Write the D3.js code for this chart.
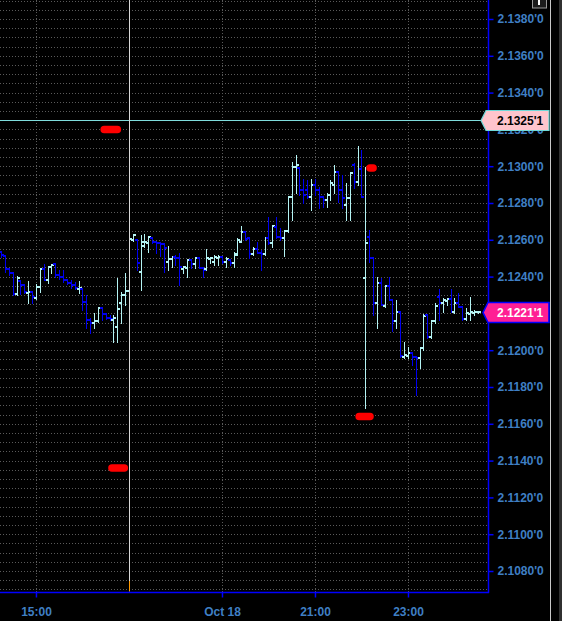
<!DOCTYPE html>
<html><head><meta charset="utf-8">
<script src="https://cdn.jsdelivr.net/npm/d3@7"></script>
<style>html,body{margin:0;padding:0;background:#000;overflow:hidden}</style>
</head><body><svg id="c" width="562" height="621"></svg>
<script>
// ---------- DATA ----------
const startTime = "2011-10-17T14:15";   // first 5-minute bar
const open = [
2.12534,2.12512,2.12441,2.12420,2.12306,2.12376,2.12355,2.12311,2.12317,2.12284,
2.12344,2.12441,2.12382,2.12452,2.12469,2.12409,2.12398,2.12382,2.12365,2.12355,
2.12333,2.12333,2.12262,2.12164,2.12148,2.12159,2.12229,2.12197,2.12175,2.12164,
2.12126,2.12257,2.12300,2.12322,2.12599,2.12599,2.12425,2.12566,2.12583,2.12610,
2.12588,2.12583,2.12577,2.12479,2.12496,2.12507,2.12501,2.12441,2.12447,2.12490,
2.12469,2.12501,2.12447,2.12441,2.12496,2.12479,2.12501,2.12507,2.12479,2.12490,
2.12474,2.12518,2.12588,2.12643,2.12610,2.12523,2.12550,2.12528,2.12523,2.12610,
2.12583,2.12670,2.12615,2.12610,2.12648,2.12833,2.12996,2.12990,2.12871,2.12871,
2.12833,2.12898,2.12871,2.12833,2.12816,2.12844,2.12898,2.12968,2.12871,2.12789,
2.12827,2.13006,2.12914,2.12985,2.12393,2.12615,2.12501,2.12257,2.12365,2.12240,
2.12349,2.12273,2.12159,2.12208,2.11964,2.11970,2.11986,2.11964,2.11959,2.12013,
2.12191,2.12072,2.12159,2.12289,2.12257,2.12268,2.12278,2.12208,2.12257,2.12235,
2.12170,2.12197,2.12202,2.12208];
const high = [
2.12539,2.12518,2.12447,2.12425,2.12403,2.12382,2.12355,2.12376,2.12322,2.12360,
2.12447,2.12469,2.12458,2.12469,2.12474,2.12436,2.12436,2.12387,2.12382,2.12371,
2.12376,2.12333,2.12300,2.12175,2.12202,2.12235,2.12235,2.12202,2.12191,2.12191,
2.12393,2.12317,2.12420,2.12626,2.12632,2.12599,2.12626,2.12632,2.12621,2.12610,
2.12594,2.12588,2.12583,2.12566,2.12512,2.12518,2.12528,2.12452,2.12496,2.12490,
2.12501,2.12501,2.12447,2.12550,2.12501,2.12518,2.12518,2.12507,2.12507,2.12496,
2.12534,2.12610,2.12675,2.12643,2.12610,2.12561,2.12588,2.12545,2.12610,2.12724,
2.12675,2.12724,2.12664,2.12653,2.12833,2.13023,2.13061,2.12990,2.12931,2.12925,
2.12931,2.12931,2.12887,2.12833,2.12855,2.12925,2.13006,2.12968,2.12952,2.12909,
2.12968,2.13017,2.13110,2.13088,2.12996,2.12653,2.12501,2.12398,2.12393,2.12355,
2.12398,2.12273,2.12273,2.12208,2.12045,2.12018,2.11986,2.11970,2.12018,2.12197,
2.12191,2.12164,2.12257,2.12333,2.12284,2.12284,2.12333,2.12284,2.12311,2.12240,
2.12229,2.12289,2.12219,2.12213];
const low = [
2.12507,2.12425,2.12409,2.12300,2.12300,2.12306,2.12311,2.12257,2.12257,2.12278,
2.12317,2.12382,2.12365,2.12420,2.12398,2.12387,2.12371,2.12360,2.12338,2.12333,
2.12311,2.12219,2.12121,2.12094,2.12121,2.12154,2.12164,2.12170,2.12164,2.12045,
2.12045,2.12148,2.12246,2.12317,2.12594,2.12436,2.12327,2.12561,2.12534,2.12583,
2.12528,2.12512,2.12425,2.12436,2.12452,2.12463,2.12355,2.12420,2.12398,2.12447,
2.12447,2.12447,2.12398,2.12436,2.12474,2.12463,2.12463,2.12474,2.12452,2.12463,
2.12452,2.12518,2.12588,2.12599,2.12501,2.12518,2.12528,2.12436,2.12518,2.12577,
2.12561,2.12610,2.12599,2.12512,2.12643,2.12708,2.12855,2.12844,2.12800,2.12827,
2.12762,2.12844,2.12773,2.12778,2.12778,2.12816,2.12855,2.12806,2.12773,2.12708,
2.12708,2.12882,2.12898,2.12833,2.11687,2.12479,2.12191,2.12121,2.12246,2.12235,
2.12273,2.12105,2.12121,2.11964,2.11959,2.11959,2.11921,2.11758,2.11904,2.12002,
2.12067,2.12067,2.12148,2.12164,2.12208,2.12246,2.12208,2.12202,2.12235,2.12164,
2.12164,2.12164,2.12191,2.12202];
const close = [
2.12518,2.12441,2.12420,2.12306,2.12393,2.12355,2.12317,2.12317,2.12289,2.12344,
2.12441,2.12382,2.12452,2.12463,2.12409,2.12398,2.12382,2.12365,2.12355,2.12338,
2.12338,2.12262,2.12164,2.12148,2.12159,2.12229,2.12197,2.12175,2.12170,2.12175,
2.12224,2.12300,2.12322,2.12605,2.12626,2.12474,2.12588,2.12588,2.12615,2.12588,
2.12583,2.12577,2.12556,2.12496,2.12507,2.12501,2.12452,2.12452,2.12490,2.12469,
2.12501,2.12447,2.12436,2.12501,2.12501,2.12507,2.12507,2.12479,2.12496,2.12474,
2.12523,2.12599,2.12643,2.12605,2.12523,2.12550,2.12528,2.12523,2.12610,2.12583,
2.12675,2.12615,2.12610,2.12648,2.12833,2.12996,2.13006,2.12871,2.12844,2.12833,
2.12898,2.12871,2.12833,2.12816,2.12844,2.12909,2.12968,2.12871,2.12827,2.12827,
2.12963,2.12914,2.12985,2.12833,2.12583,2.12501,2.12257,2.12365,2.12246,2.12349,
2.12273,2.12159,2.12208,2.11970,2.11975,2.11986,2.11964,2.11959,2.12013,2.12186,
2.12072,2.12159,2.12240,2.12257,2.12273,2.12278,2.12208,2.12257,2.12235,2.12170,
2.12202,2.12208,2.12208,2.12210];

const yTickValues = [2.108,2.110,2.112,2.114,2.116,2.118,2.120,2.122,2.124,2.126,2.128,2.130,2.132,2.134,2.136,2.138];
const yTickLabels = ["2.1080'0","2.1100'0","2.1120'0","2.1140'0","2.1160'0","2.1180'0","2.1200'0","2.1220'0","2.1240'0","2.1260'0","2.1280'0","2.1300'0","2.1320'0","2.1340'0","2.1360'0","2.1380'0"];
const xTickTimes = ["2011-10-17T15:00","2011-10-17T17:00","2011-10-17T19:00","2011-10-17T21:00","2011-10-17T23:00"];
const xTickLabels = ["15:00","","Oct 18","21:00","23:00"];

const levelPrice = 2.13251, levelLabel = "2.1325'1";
const lastPrice = 2.12210, lastLabel = "2.1221'1";
const cursorTime = "2011-10-17T17:00";

const markStart = ["2011-10-17T16:28","2011-10-17T22:11","2011-10-17T21:57","2011-10-17T16:38"];
const markEnd   = ["2011-10-17T16:45","2011-10-17T22:15","2011-10-17T22:11","2011-10-17T16:54"];
const markPrice = [2.1320, 2.1299, 2.1164, 2.1136];

// ---------- LAYOUT ----------
const W = 562, H = 621, PR = 488, PB = 592;
const FONT = "'Liberation Sans', Arial, sans-serif";
const LABEL = "#3f7fc4";
const UP = "#b4f4f4", DOWN = "#0000f0";

const svg = d3.select("#c");
svg.append("rect").attr("width", W).attr("height", H).attr("fill", "#000");

const parse = d3.timeParse("%Y-%m-%dT%H:%M");
const t0 = parse(startTime);
const times = open.map((_, i) => d3.timeMinute.offset(t0, 5 * i));

const x = d3.scaleTime()
  .domain([new Date(+t0 - 85e3), new Date(+t0 + 628.26 * 60e3)])
  .range([0, PR]);
const y = d3.scaleLinear().domain([2.108, 2.138]).range([571, 19]);
const cx = v => Math.round(v) + 0.5;

svg.append("defs").append("clipPath").attr("id", "clip")
  .append("rect").attr("x", 0).attr("y", 0).attr("width", PR).attr("height", PB);

// horizontal dotted grid
const gridVals = d3.range(0, 65).map(k => 2.107 + k * 0.0005);
svg.append("g").selectAll("line").data(gridVals.filter(v => y(v) > 0 && y(v) < PB)).join("line")
  .attr("x1", 0).attr("x2", PR)
  .attr("y1", d => cx(y(d))).attr("y2", d => cx(y(d)))
  .attr("stroke", "#5a5a5a").attr("stroke-dasharray", "1,2");

// vertical dotted grid
const tickDates = xTickTimes.map(parse);
svg.append("g").selectAll("line").data(tickDates).join("line")
  .attr("x1", d => cx(x(d))).attr("x2", d => cx(x(d)))
  .attr("y1", 0).attr("y2", PB)
  .attr("stroke", "#5a5a5a").attr("stroke-dasharray", "1,2");

// level line
svg.append("line").attr("x1", 0).attr("x2", 481)
  .attr("y1", cx(y(levelPrice))).attr("y2", cx(y(levelPrice)))
  .attr("stroke", "#7fdcdc").attr("stroke-width", 1);

// bars
const gb = svg.append("g").attr("clip-path", "url(#clip)").attr("shape-rendering", "crispEdges");
const bars = gb.selectAll("g").data(d3.range(open.length)).join("g")
  .attr("stroke", i => close[i] >= open[i] ? UP : DOWN);
bars.append("line")
  .attr("x1", i => cx(x(times[i]))).attr("x2", i => cx(x(times[i])))
  .attr("y1", i => Math.round(y(high[i]))).attr("y2", i => Math.round(y(low[i])) + 1)
  .attr("stroke-width", 1.2);
bars.append("line")
  .attr("x1", i => Math.round(x(times[i])) - 2).attr("x2", i => Math.round(x(times[i])) + 1)
  .attr("y1", i => Math.round(y(open[i]))).attr("y2", i => Math.round(y(open[i])))
  .attr("stroke-width", 2);
bars.append("line")
  .attr("x1", i => Math.round(x(times[i]))).attr("x2", i => Math.round(x(times[i])) + 3)
  .attr("y1", i => Math.round(y(close[i]))).attr("y2", i => Math.round(y(close[i])))
  .attr("stroke-width", 2);

// cursor line
const cur = parse(cursorTime);
svg.append("line").attr("x1", cx(x(cur))).attr("x2", cx(x(cur)))
  .attr("y1", 0).attr("y2", PB - 1).attr("stroke", "#d8d8d8");
svg.append("line").attr("x1", cx(x(cur))).attr("x2", cx(x(cur)))
  .attr("y1", 581).attr("y2", PB - 1).attr("stroke", "#ff9900").attr("stroke-width", 1);

// red annotation marks
svg.append("g").selectAll("line").data(markPrice).join("line")
  .attr("x1", (d, i) => x(parse(markStart[i]))).attr("x2", (d, i) => x(parse(markEnd[i])))
  .attr("y1", d => y(d)).attr("y2", d => y(d))
  .attr("stroke", "#ff0000").attr("stroke-width", 7.5).attr("stroke-linecap", "round");

// axis lines
svg.append("line").attr("x1", PR + 0.5).attr("x2", PR + 0.5).attr("y1", 0).attr("y2", PB + 1)
  .attr("stroke", "#0000ff").attr("stroke-width", 1.5);
svg.append("line").attr("x1", 0).attr("x2", PR + 1).attr("y1", PB + 0.5).attr("y2", PB + 0.5)
  .attr("stroke", "#0000ff").attr("stroke-width", 1.5);

// right axis
const ya = svg.append("g").attr("transform", `translate(${PR + 0.5},0)`)
  .call(d3.axisRight(y).tickValues(yTickValues).tickFormat((d, i) => yTickLabels[i])
    .tickSize(5).tickPadding(4).tickSizeOuter(0));
ya.select(".domain").remove();
ya.selectAll(".tick line").attr("stroke", "#0000ff").attr("stroke-width", 1.5);
ya.selectAll(".tick text").attr("fill", LABEL).attr("font-family", FONT)
  .attr("font-size", 12).attr("font-weight", "bold");

// bottom axis
const labeled = tickDates.filter((d, i) => xTickLabels[i] !== "");
const labTxt = xTickLabels.filter(l => l !== "");
const xa = svg.append("g").attr("transform", `translate(0,${PB + 0.5})`)
  .call(d3.axisBottom(x).tickValues(labeled).tickFormat((d, i) => labTxt[i])
    .tickSize(5).tickPadding(10).tickSizeOuter(0));
xa.select(".domain").remove();
xa.selectAll(".tick line").attr("stroke", "#0000ff").attr("stroke-width", 1.5);
xa.selectAll(".tick text").attr("fill", LABEL).attr("font-family", FONT)
  .attr("font-size", 12).attr("font-weight", "bold");

// price tags
function tag(price, label, fill, stroke, sw, textColor, tip) {
  const yc = Math.round(y(price)) + 0.5;
  const h = 10;
  const pts = [[tip, yc], [tip + 5, yc - h], [549, yc - h], [549, yc + h], [tip + 5, yc + h]];
  svg.append("path").attr("d", "M" + pts.map(p => p.join(",")).join("L") + "Z")
    .attr("fill", fill).attr("stroke", stroke).attr("stroke-width", sw);
  svg.append("text").attr("x", 497).attr("y", yc).attr("dy", "0.36em")
    .attr("fill", textColor).attr("font-family", FONT).attr("font-size", 12)
    .attr("font-weight", "bold").text(label);
}
tag(levelPrice, levelLabel, "#ffc4cc", "#6fd8d8", 1.2, "#000", 481);
tag(lastPrice, lastLabel, "#ff1f94", "#0000ff", 1.6, "#fff", 483);

// right frame bits
svg.append("line").attr("x1", 550.5).attr("x2", 550.5).attr("y1", 0).attr("y2", H)
  .attr("stroke", "#c8c8c8");
svg.append("rect").attr("x", 559).attr("y", 0).attr("width", 3).attr("height", H).attr("fill", "#303030");
svg.append("rect").attr("x", 532.5).attr("y", -1).attr("width", 14).attr("height", 9)
  .attr("fill", "#1c1c1c").attr("stroke", "#9a9a9a");
svg.append("rect").attr("x", 538).attr("y", 0).attr("width", 2).attr("height", 5).attr("fill", "#fff");
</script>
</body></html>
